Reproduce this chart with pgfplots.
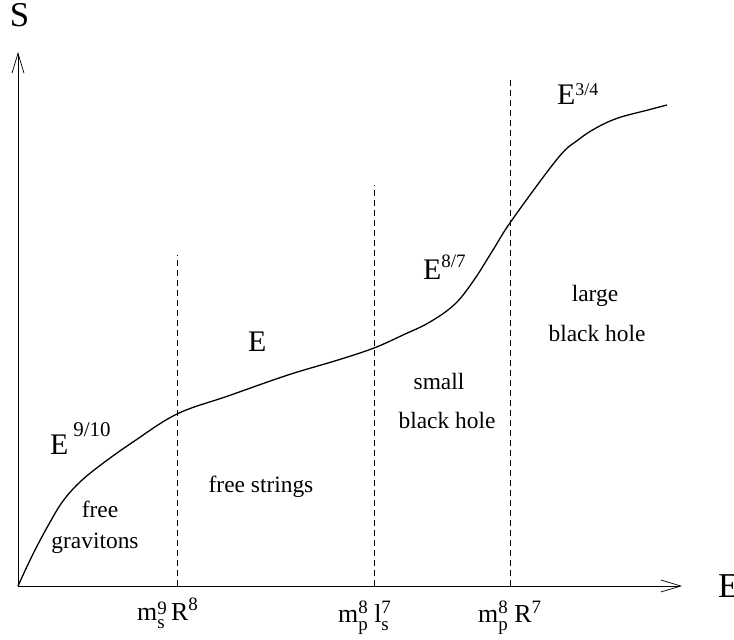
\documentclass[border=0pt]{standalone}
\usepackage{pgfplots}
\pgfplotsset{compat=1.18}
\usetikzlibrary{arrows.meta}
\usepackage{fontspec}
\setmainfont{Liberation Serif}
\newcommand\fs[1]{\fontsize{#1}{#1}\selectfont}
\newcommand\SupSub[4]{\rlap{\raisebox{-#4}{\fs{19}#2}}\raisebox{#3}{\fs{19}#1}}
\begin{document}
\begin{tikzpicture}
\begin{axis}[
  scale only axis, width=664bp, height=534bp,
  xmin=0, xmax=664, ymin=0, ymax=534,
  axis lines=left,
  axis line style={line width=0.7bp, -{Straight Barb[length=20bp,width=12bp,line width=0.7bp]}},
  ticks=none, clip=false,
]
\addplot[black, line width=1.3bp, smooth, tension=0.6] coordinates {
(0,0) (15,32) (31,62) (45,85) (62,104) (84,122) (115,144) (159,172)
(210,190) (270,211) (320,226) (356,238) (385,251) (412,264) (437,282)
(456,306) (475,336) (494,366) (540,428) (560,446) (578,458) (600,468)
(630,476) (649,481)};
\addplot[black, line width=0.7bp, dash pattern=on 6bp off 4bp] coordinates {(159,0) (159,331)};
\addplot[black, line width=0.7bp, dash pattern=on 6bp off 4bp] coordinates {(356,0) (356,401)};
\addplot[black, line width=0.7bp, dash pattern=on 6bp off 4bp] coordinates {(492,0) (492,506)};
% axis labels
\node[anchor=base, inner sep=0] at (axis cs:1.5,559) {\fs{35}S};
\node[anchor=base west, inner sep=0] at (axis cs:700,-11) {\fs{35}E};
% curve labels
\node[anchor=base west, inner sep=0] at (axis cs:32,131) {\fs{30}E\hspace{5bp}\raisebox{18bp}{\fs{21}9/10}};
\node[anchor=base west, inner sep=0] at (axis cs:230,234) {\fs{30}E};
\node[anchor=base west, inner sep=0] at (axis cs:405,306) {\fs{30}E\raisebox{12bp}{\fs{19}8/7}};
\node[anchor=base west, inner sep=0] at (axis cs:539,481) {\fs{30}E\raisebox{9bp}{\fs{18}3/4}};
% region labels
\node[anchor=base, inner sep=0] at (axis cs:82,69) {\fs{23.5}free};
\node[anchor=base, inner sep=0] at (axis cs:77,38) {\fs{23.5}gravitons};
\node[anchor=base, inner sep=0] at (axis cs:243,93) {\fs{23.5}free strings};
\node[anchor=base, inner sep=0] at (axis cs:421,196) {\fs{23.5}small};
\node[anchor=base, inner sep=0] at (axis cs:429,157) {\fs{23.5}black hole};
\node[anchor=base, inner sep=0] at (axis cs:577,284) {\fs{23.5}large};
\node[anchor=base, inner sep=0] at (axis cs:579,244) {\fs{23.5}black hole};
% tick-position labels
\node[anchor=base west, inner sep=0] at (axis cs:119,-34) {\fs{26}m\SupSub{9}{s}{6bp}{8bp}\,R\raisebox{10bp}{\fs{19}8}};
\node[anchor=base west, inner sep=0] at (axis cs:320,-36) {\fs{26}m\SupSub{8}{p}{9bp}{8bp}\ l\SupSub{7}{s}{9bp}{8bp}};
\node[anchor=base west, inner sep=0] at (axis cs:460,-36) {\fs{26}m\SupSub{8}{p}{9bp}{8bp}\ R\raisebox{9bp}{\fs{19}7}};
\coordinate (bbll) at (axis cs:-18,-54);
\coordinate (bbur) at (axis cs:716,586);
\end{axis}
\pgfresetboundingbox
\path[use as bounding box] (bbll) rectangle (bbur);
\end{tikzpicture}
\end{document}
